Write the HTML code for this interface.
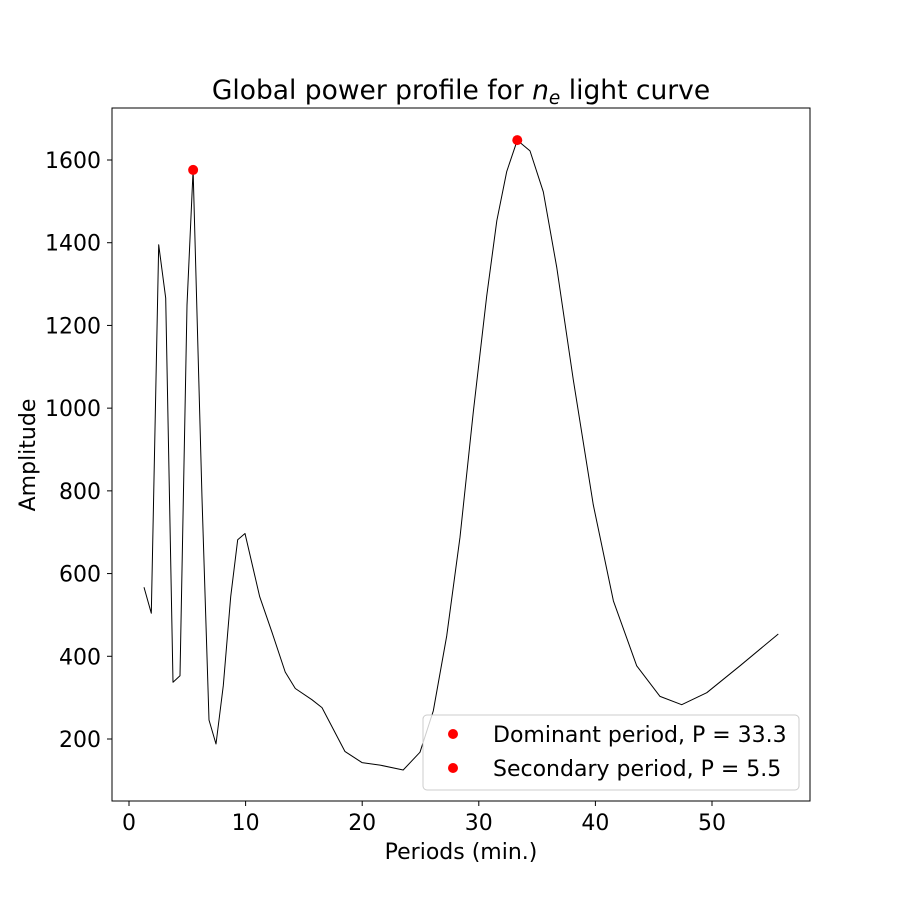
<!DOCTYPE html>
<html><head><meta charset="utf-8"><style>
body{margin:0;background:#fff}
svg text{font-family:"DejaVu Sans","Liberation Sans",sans-serif;fill:#000}
</style></head><body>
<svg id="chart" width="900" height="900" xmlns="http://www.w3.org/2000/svg">
<rect width="900" height="900" fill="#fff"/>
<text x="461" y="99" font-size="26.5" text-anchor="middle">Global power profile for <tspan font-style="italic">n</tspan><tspan font-style="italic" font-size="18.5" dy="5">e</tspan><tspan dy="-5"> light curve</tspan></text>
<g id="plot"></g>
<rect x="112" y="108" width="698" height="693" fill="none" stroke="#000" stroke-width="1"/>
<g id="xticks"></g>
<g id="yticks"></g>
<text x="461" y="859" font-size="22" text-anchor="middle">Periods (min.)</text>
<text x="35" y="455" font-size="22" text-anchor="middle" transform="rotate(-90 35 455)">Amplitude</text>
<g>
<rect x="423" y="715" width="376" height="75" rx="4" fill="#fff" fill-opacity="0.8" stroke="#ccc"/>
<circle cx="453" cy="734" r="5" fill="#ff0000"/>
<text x="493" y="742" font-size="22">Dominant period, P = 33.3</text>
<circle cx="453" cy="768" r="5" fill="#ff0000"/>
<text x="493" y="776" font-size="22">Secondary period, P = 5.5</text>
</g>
</svg>
<script>
const periods=[1.29,1.91,2.55,3.15,3.77,4.37,4.97,5.5,6.26,6.86,7.46,8.09,8.72,9.32,9.95,11.21,12.26,13.40,14.26,15.69,16.55,18.52,19.98,21.53,23.52,24.96,26.10,27.25,28.39,29.53,30.68,31.54,32.39,33.3,34.39,35.53,36.68,38.1,39.82,41.54,43.54,45.54,47.4,49.55,52.4,55.69];
const amplitudes=[567,504,1395,1266,337,353,1249,1576,783,246,188,329,544,682,697,544,458,362,322,295,276,170,143,137,125,168,268,449,688,991,1271,1453,1572,1648,1622,1523,1341,1070,766,534,377,303,283,312,377,454];
const peakPeriods=[33.3,5.5];
const peakAmps=[1648,1576];
const xTicks=[0,10,20,30,40,50];
const yTicks=[200,400,600,800,1000,1200,1400,1600];
const NS='http://www.w3.org/2000/svg';
function xs(v){return 129+v*11.66;}
function ys(v){return 739-(v-200)*0.41357;}
const plot=document.getElementById('plot');
const line=document.createElementNS(NS,'polyline');
line.setAttribute('points',periods.map((p,i)=>xs(p).toFixed(1)+','+ys(amplitudes[i]).toFixed(1)).join(' '));
line.setAttribute('fill','none');line.setAttribute('stroke','#000');line.setAttribute('stroke-width','1');line.setAttribute('stroke-linejoin','round');


plot.appendChild(line);
peakPeriods.forEach((p,i)=>{const c=document.createElementNS(NS,'circle');
c.setAttribute('cx',xs(p));c.setAttribute('cy',ys(peakAmps[i]));c.setAttribute('r',5);c.setAttribute('fill','#ff0000');


plot.appendChild(c);});
const xg=document.getElementById('xticks');
xTicks.forEach(t=>{const x=xs(t);
const l=document.createElementNS(NS,'line');l.setAttribute('x1',x);l.setAttribute('x2',x);l.setAttribute('y1',801);l.setAttribute('y2',806);l.setAttribute('stroke','#000');


xg.appendChild(l);
const tx=document.createElementNS(NS,'text');tx.setAttribute('x',x);tx.setAttribute('y',830);tx.setAttribute('font-size','22');tx.setAttribute('text-anchor','middle');tx.textContent=t;


xg.appendChild(tx);});
const yg=document.getElementById('yticks');
yTicks.forEach(t=>{const y=ys(t);
const l=document.createElementNS(NS,'line');l.setAttribute('x1',107);l.setAttribute('x2',112);l.setAttribute('y1',y);l.setAttribute('y2',y);l.setAttribute('stroke','#000');


yg.appendChild(l);
const tx=document.createElementNS(NS,'text');tx.setAttribute('x',101);tx.setAttribute('y',y+8);tx.setAttribute('font-size','22');tx.setAttribute('text-anchor','end');tx.textContent=t;


yg.appendChild(tx);});
</script>
</body></html>
